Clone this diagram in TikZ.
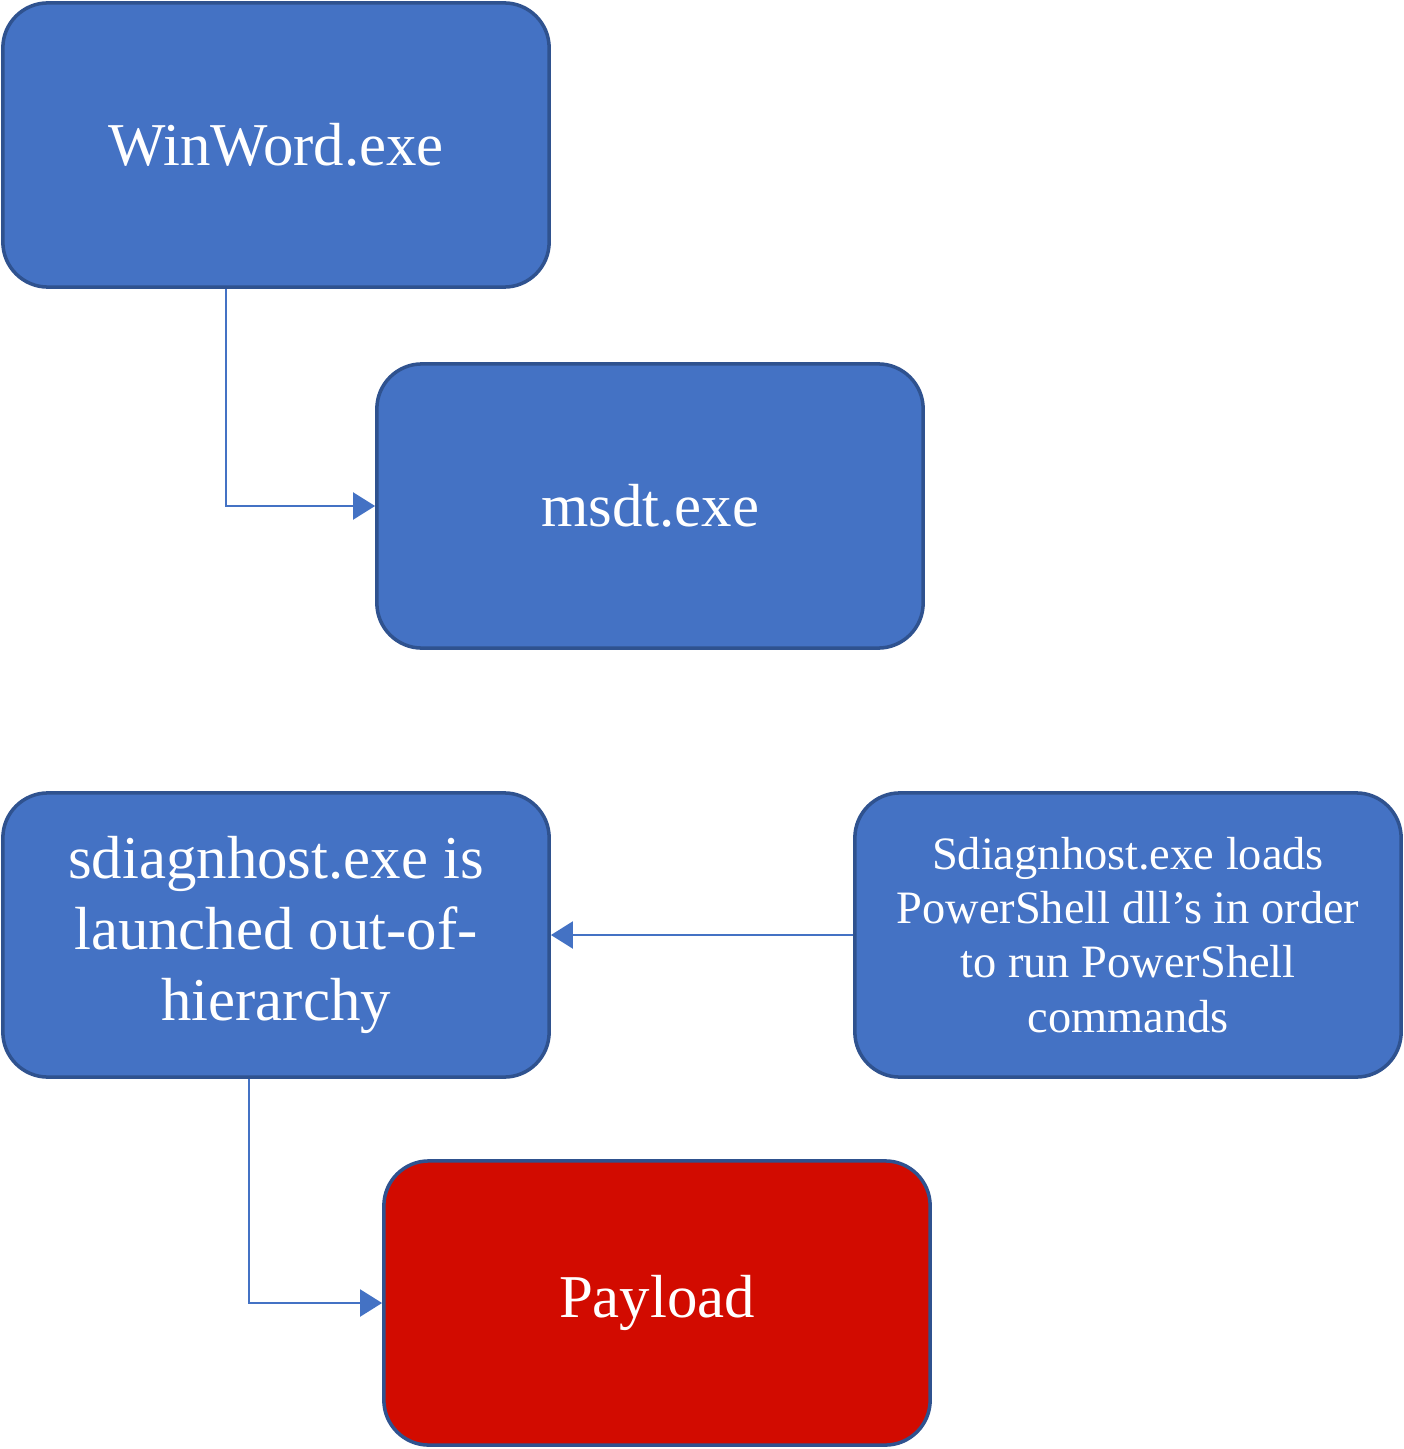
\documentclass[tikz,border=0pt]{standalone}
\usepackage{fontspec}
\setmainfont{Liberation Serif}
\usetikzlibrary{arrows.meta, positioning}
\definecolor{boxblue}{HTML}{4472C4}
\definecolor{boxedge}{HTML}{2F528F}
\definecolor{payred}{HTML}{D20B00}

\begin{document}
\begin{tikzpicture}[
    x=0.01cm, y=-0.01cm,
    proc/.style={rectangle, draw=boxedge, line width=1pt, rounded corners=0.45cm,
                 minimum width=5.46cm, minimum height=2.84cm, align=center, inner xsep=2pt,
                 fill=boxblue, text=white, font=\fontsize{17.3}{20.2}\selectfont},
    note/.style={proc, font=\fontsize{13.2}{15.4}\selectfont},
    payloadbox/.style={proc, fill=payred},
    arr/.style={-{Triangle[length=0.22cm, width=0.27cm]}, draw=boxblue, line width=0.6pt}
]
\useasboundingbox (0,0) rectangle (1404,1449);

\node[proc] (winword) at (276,145) {WinWord.exe};
\node[proc] (msdt) at (650,506) {msdt.exe};

\node[proc] (sdiag) at (276,935) {sdiagnhost.exe is\\launched out-of-\\hierarchy};
\node[note] (psload) at (1128,935) {Sdiagnhost.exe loads\\PowerShell dll’s in order\\to run PowerShell\\commands};
\node[payloadbox] (payload) at (657,1303) {Payload};

\draw[arr] ([xshift=-0.5cm]winword.south) |- (msdt.west);
\draw[arr] (psload.west) -- (sdiag.east);
\draw[arr] ([xshift=-0.27cm]sdiag.south) |- (payload.west);
\end{tikzpicture}
\end{document}
